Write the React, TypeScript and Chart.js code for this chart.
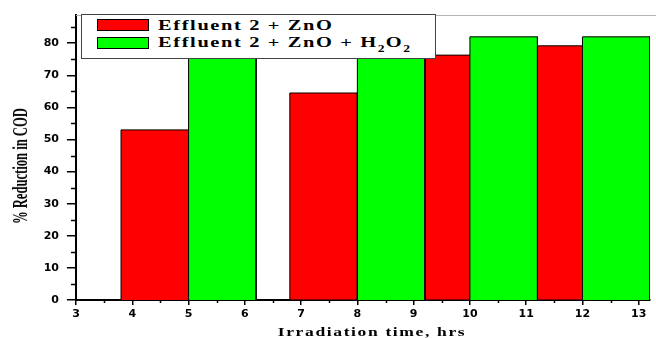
import React, { useEffect, useRef } from "react";
import { Chart, registerables } from "chart.js";

Chart.register(...registerables);

// ---------- data ----------
const seriesNames = ["Effluent 2 + ZnO", "Effluent 2 + ZnO + H2O2"];
const redStartHrs = [3.8, 6.8, 9.2, 11.2];
const redValues = [53, 64.5, 76.3, 79.2];
const greenStartHrs = [5.0, 8.0, 10.0, 12.0];
const greenValues = [79, 80, 82, 82];
const BAR_WIDTH_HRS = 1.2;

const xTickValues = [3, 4, 5, 6, 7, 8, 9, 10, 11, 12, 13];
const xMinorTicks = [3.5, 4.5, 5.5, 6.5, 7.5, 8.5, 9.5, 10.5, 11.5, 12.5];
const yTickValues = [0, 10, 20, 30, 40, 50, 60, 70, 80];
const yMinorTicks = [5, 15, 25, 35, 45, 55, 65, 75, 85];
const X_MIN = 3;
const X_MAX = 13.2;
const Y_MIN = 0;
const Y_MAX = 88.8;

function barOutline(starts: number[], values: number[]) {
  const pts: { x: number; y: number }[] = [];
  starts.forEach((s, i) => {
    const e = s + BAR_WIDTH_HRS;
    pts.push({ x: s, y: 0 }, { x: s, y: values[i] }, { x: e, y: values[i] }, { x: e, y: 0 });
  });
  return pts;
}

const extrasPlugin = {
  id: "extras",
  afterDraw(chart: any) {
    const { ctx, chartArea } = chart;
    const xs = chart.scales.x;
    const ys = chart.scales.y;
    ctx.save();
    ctx.strokeStyle = "#000";
    ctx.lineWidth = 1.5;
    ctx.beginPath();
    yMinorTicks.forEach((v) => {
      const py = Math.round(ys.getPixelForValue(v)) + 0.5;
      ctx.moveTo(chartArea.left - 5, py);
      ctx.lineTo(chartArea.left, py);
    });
    xMinorTicks.forEach((v) => {
      const px = Math.round(xs.getPixelForValue(v)) + 0.5;
      ctx.moveTo(px, chartArea.bottom);
      ctx.lineTo(px, chartArea.bottom + 3);
    });
    ctx.stroke();
    ctx.strokeStyle = "#b4b4b4";
    ctx.lineWidth = 1;
    ctx.beginPath();
    ctx.moveTo(chartArea.left, chartArea.top + 0.5);
    ctx.lineTo(chart.width, chartArea.top + 0.5);
    ctx.stroke();
    ctx.restore();
  },
};

const tickFont = { family: "'DejaVu Sans', sans-serif", size: 11, weight: "bold" as const };
const serif = "'Liberation Serif', 'Times New Roman', serif";

export default function App() {
  const canvasRef = useRef<HTMLCanvasElement | null>(null);

  useEffect(() => {
    if (!canvasRef.current) return;
    const chart = new Chart(canvasRef.current, {
      type: "line",
      data: {
        datasets: [
          {
            label: seriesNames[0],
            data: barOutline(redStartHrs, redValues),
            borderColor: "#000",
            borderWidth: 1,
            backgroundColor: "#ff0000",
            fill: "origin",
            pointRadius: 0,
            tension: 0,
            order: 2,
          },
          {
            label: seriesNames[1],
            data: barOutline(greenStartHrs, greenValues),
            borderColor: "#000",
            borderWidth: 1,
            backgroundColor: "#00ff00",
            fill: "origin",
            pointRadius: 0,
            tension: 0,
            order: 1,
          },
        ],
      },
      options: {
        animation: false,
        responsive: false,
        layout: { padding: { left: 0, top: 15, right: 6, bottom: 0 } },
        plugins: { legend: { display: false }, tooltip: { enabled: false } },
        scales: {
          x: {
            type: "linear",
            min: X_MIN,
            max: X_MAX,
            afterBuildTicks: (s: any) => {
              s.ticks = xTickValues.map((v) => ({ value: v }));
            },
            afterFit: (s: any) => {
              s.height = 38;
            },
            ticks: { font: tickFont, color: "#000", padding: 3, maxRotation: 0 },
            grid: { display: true, drawOnChartArea: false, drawTicks: true, tickLength: 5, color: "#000", lineWidth: 1.5 },
            border: { display: true, color: "#000", width: 2 },
          },
          y: {
            type: "linear",
            min: Y_MIN,
            max: Y_MAX,
            afterBuildTicks: (s: any) => {
              s.ticks = yTickValues.map((v) => ({ value: v }));
            },
            afterFit: (s: any) => {
              s.width = 76;
            },
            ticks: { font: tickFont, color: "#000", padding: 8 },
            grid: { display: true, drawOnChartArea: false, drawTicks: true, tickLength: 9, color: "#000", lineWidth: 1.5 },
            border: { display: true, color: "#000", width: 2 },
          },
        },
      },
      plugins: [extrasPlugin],
    });
    return () => chart.destroy();
  }, []);

  const legendText: React.CSSProperties = {
    position: "absolute",
    left: 76,
    fontFamily: serif,
    fontWeight: "bold",
    fontSize: 15,
    lineHeight: "15px",
    letterSpacing: "1.2px",
    whiteSpace: "nowrap",
    color: "#000",
    transform: "scaleX(1.36)",
    transformOrigin: "0 0",
  };
  const swatch = (color: string, top: number): React.CSSProperties => ({
    position: "absolute",
    left: 15,
    top,
    width: 52,
    height: 12,
    background: color,
    border: "1px solid #000",
    boxSizing: "border-box",
  });
  const sub: React.CSSProperties = { fontSize: 10, position: "relative", top: 5, letterSpacing: "1px" };

  return (
    <div style={{ position: "fixed", left: 0, top: 0, width: 656, height: 338, background: "#fff", overflow: "hidden" }}>
      <canvas ref={canvasRef} width={656} height={338} style={{ display: "block" }} />
      <div
        style={{
          position: "absolute",
          left: 81,
          top: 14,
          width: 355,
          height: 45,
          border: "1px solid #444",
          background: "#fff",
          boxSizing: "border-box",
        }}
      >
        <div style={swatch("#ff0000", 4)} />
        <div style={{ ...legendText, top: 2.5 }}>{seriesNames[0]}</div>
        <div style={swatch("#00ff00", 22)} />
        <div style={{ ...legendText, top: 20 }}>
          Effluent 2 + ZnO + H<span style={sub}>2</span>O<span style={sub}>2</span>
        </div>
      </div>
      <div
        style={{
          position: "absolute",
          left: 20,
          top: 166,
          transform: "translate(-50%, -50%) rotate(-90deg) scaleX(0.63)",
          fontFamily: serif,
          fontWeight: "bold",
          fontSize: 20,
          lineHeight: "20px",
          whiteSpace: "nowrap",
          color: "#000",
        }}
      >
        % Reduction in COD
      </div>
      <div
        style={{
          position: "absolute",
          left: 372,
          top: 325,
          transform: "translateX(-50%) scaleX(1.35)",
          fontFamily: serif,
          fontWeight: "bold",
          fontSize: 13,
          lineHeight: "13px",
          letterSpacing: "1.2px",
          whiteSpace: "nowrap",
          color: "#000",
        }}
      >
        Irradiation time, hrs
      </div>
    </div>
  );
}
